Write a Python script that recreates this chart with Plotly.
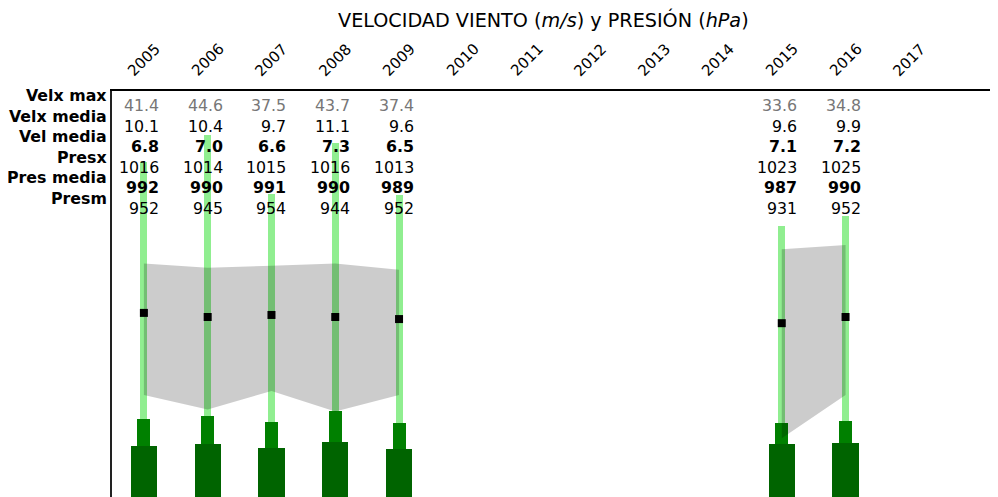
import plotly.graph_objects as go

years = [2005, 2006, 2007, 2008, 2009, 2010, 2011, 2012, 2013, 2014, 2015, 2016, 2017]
velx_max = [41.4, 44.6, 37.5, 43.7, 37.4, None, None, None, None, None, 33.6, 34.8, None]
velx_media = [10.1, 10.4, 9.7, 11.1, 9.6, None, None, None, None, None, 9.6, 9.9, None]
vel_media = [6.8, 7.0, 6.6, 7.3, 6.5, None, None, None, None, None, 7.1, 7.2, None]
presx = [1016, 1014, 1015, 1016, 1013, None, None, None, None, None, 1023, 1025, None]
pres_media = [992, 990, 991, 990, 989, None, None, None, None, None, 987, 990, None]
presm = [952, 945, 954, 944, 952, None, None, None, None, None, 931, 952, None]

row_labels = ["Velx max", "Velx media", "Vel media", "Presx", "Pres media", "Presm"]
title_text = "VELOCIDAD VIENTO (<i>m/s</i>) y PRESIÓN (<i>hPa</i>)"

FONT = "DejaVu Sans"
OFF = 8                      # page body margin
W, H = 998 - OFF, 497 - OFF
ML, MT = 112 - OFF, 91 - OFF
PW, PH = W - ML, H - MT


def paper_x(px):
    return (px - OFF - ML) / PW


def paper_y(py):
    return (H - (py - OFF)) / PH


fig = go.Figure()

# wind bars (primary axis)
fig.add_trace(go.Bar(x=years, y=velx_max, width=0.11, marker=dict(color="#90EE90", line=dict(width=0)),
                     hoverinfo="skip", yaxis="y"))
fig.add_trace(go.Bar(x=years, y=velx_media, width=0.205, marker=dict(color="#008000", line=dict(width=0)),
                     hoverinfo="skip", yaxis="y"))
fig.add_trace(go.Bar(x=years, y=vel_media, width=0.41, marker=dict(color="#006400", line=dict(width=0)),
                     hoverinfo="skip", yaxis="y"))

# pressure band polygons (contiguous runs)
runs = []
cur = []
for i, yr in enumerate(years):
    if presx[i] is not None and presm[i] is not None:
        cur.append(i)
    else:
        if cur:
            runs.append(cur)
        cur = []
if cur:
    runs.append(cur)
px, py = [], []
for r in runs:
    if px:
        px.append(None)
        py.append(None)
    px += [years[i] for i in r] + [years[i] for i in reversed(r)]
    py += [presx[i] for i in r] + [presm[i] for i in reversed(r)]
fig.add_trace(go.Scatter(x=px, y=py, mode="lines", fill="toself", fillcolor="rgba(0,0,0,0.2)",
                         line=dict(width=0, color="rgba(0,0,0,0)"), hoverinfo="skip", yaxis="y2"))
fig.add_trace(go.Scatter(x=years, y=pres_media, mode="markers",
                         marker=dict(symbol="square", size=8, color="black"), hoverinfo="skip", yaxis="y2"))

ann = []
# title
ann.append(dict(text=title_text, x=paper_x(543.5), y=paper_y(20), xref="paper", yref="paper",
                xanchor="center", yanchor="middle", showarrow=False,
                font=dict(family=FONT, size=19.2, color="black")))
# year labels
for yr in years:
    ann.append(dict(text=str(yr), x=yr, y=paper_y(60), xref="x", yref="paper", textangle=-45,
                    xanchor="center", yanchor="middle", showarrow=False,
                    font=dict(family=FONT, size=15, color="black")))
# row labels
for i, lab in enumerate(row_labels):
    ypx = 95.5 + 20.5 * i
    ann.append(dict(text="<b>%s</b>" % lab, x=paper_x(108.5), y=paper_y(ypx), xref="paper", yref="paper",
                    xanchor="right", yanchor="middle", showarrow=False,
                    font=dict(family=FONT, size=15.8, color="black")))
# table values
rows = [
    (velx_max, "{:.1f}", "#777777", False),
    (velx_media, "{:.1f}", "black", False),
    (vel_media, "{:.1f}", "black", True),
    (presx, "{:.0f}", "black", False),
    (pres_media, "{:.0f}", "black", True),
    (presm, "{:.0f}", "black", False),
]
for i, (vals, fmt, col, bold) in enumerate(rows):
    ypx = 105.5 + 20.6 * i
    for yr, v in zip(years, vals):
        if v is None:
            continue
        t = fmt.format(v)
        if bold:
            t = "<b>%s</b>" % t
        ann.append(dict(text=t, x=yr, y=paper_y(ypx), xref="x", yref="paper", xanchor="right",
                        yanchor="middle", xshift=17, showarrow=False,
                        font=dict(family=FONT, size=15.8, color=col)))

fig.update_layout(
    width=W, height=H,
    margin=dict(l=ML, r=0, t=MT, b=0, pad=0),
    paper_bgcolor="white", plot_bgcolor="white",
    barmode="overlay", bargap=0,
    showlegend=False,
    font=dict(family=FONT, color="black"),
    xaxis=dict(range=[2004.5, 2018.39], side="top", showgrid=False, zeroline=False,
               showline=True, linecolor="black", linewidth=2, showticklabels=False, ticks=""),
    yaxis=dict(range=[0.6, 50], showgrid=False, zeroline=False, showline=True,
               linecolor="#222222", linewidth=2, showticklabels=False, ticks=""),
    yaxis2=dict(range=[902.4, 1100], overlaying="y", showgrid=False, zeroline=False,
                showline=False, showticklabels=False, ticks=""),
    annotations=ann,
)

fig.write_html("out.html", config={"displayModeBar": False})
